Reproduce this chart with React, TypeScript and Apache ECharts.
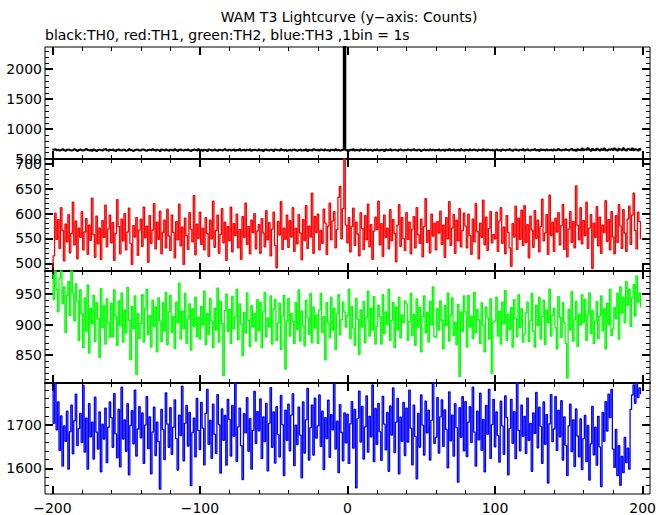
import { useEffect, useRef } from "react";
import * as echarts from "echarts";

// ---- data (1 s bins, starting at t = -200 s) ----
const BIN_START = -200;
const BIN_SIZE = 1;

const TH0 = [
  655,648,660,642,651,638,645,657,640,633,649,652,641,636,647,659,644,630,646,653,
  641,637,650,662,645,639,648,634,655,643,628,647,651,640,636,654,661,642,635,649,
  644,652,639,631,648,656,643,637,650,645,633,641,658,646,639,627,644,653,648,636,
  642,655,649,638,632,646,651,640,657,644,635,648,643,629,652,647,638,656,641,634,
  650,643,637,659,645,631,648,654,640,636,649,642,655,638,630,646,652,644,639,657,
  641,648,635,650,644,629,653,647,638,642,656,640,633,651,645,637,648,660,643,636,
  649,638,645,654,632,647,641,657,639,644,651,636,648,642,655,634,646,650,640,637,
  652,640,646,631,649,655,643,638,650,645,628,653,647,641,636,658,644,639,651,635,
  643,650,637,648,656,640,633,647,652,638,645,641,654,630,649,643,637,657,646,640,
  648,636,652,644,639,655,641,647,633,650,645,638,657,642,649,636,644,651,2400,640,
  646,633,650,643,657,639,648,642,635,653,647,640,656,644,638,651,645,632,649,641,
  655,643,638,650,646,631,652,641,647,658,637,645,651,640,634,649,655,643,639,646,
  640,652,645,636,649,657,642,638,651,644,630,647,653,641,648,637,655,643,650,639,
  647,641,656,638,645,650,634,648,643,659,640,646,652,637,644,651,639,657,642,635,
  651,644,637,653,640,648,655,642,633,649,646,639,658,644,636,652,647,641,650,638,
  643,656,641,647,635,652,645,638,650,644,657,640,632,648,653,642,637,651,646,660,
  639,648,654,642,636,651,645,658,640,647,633,652,644,649,638,655,641,646,650,637,
  653,640,647,661,644,636,650,642,657,645,638,652,664,641,648,635,659,646,643,670,
  642,655,648,676,650,633,662,645,640,668,652,637,659,647,671,643,638,656,649,664,
  645,672,651,638,666,654,641,675,648,636,663,652,644,669,640,657,650,637,661,648,
];

const TH1 = [
  492,515,601,548,588,530,612,566,505,579,543,598,521,560,623,537,585,509,571,552,
  604,527,563,590,518,577,546,631,558,512,595,539,571,508,586,552,617,533,569,597,
  541,582,506,560,628,574,519,589,545,600,527,563,611,540,498,576,553,592,516,567,
  589,534,613,551,575,502,596,540,567,620,529,583,548,605,519,562,587,531,609,555,
  526,597,562,511,584,547,619,535,573,498,591,556,528,602,569,543,636,517,579,550,
  603,538,571,527,592,560,514,587,549,625,532,566,597,520,558,610,541,583,506,574,
  545,613,523,580,556,599,531,568,508,594,552,621,538,574,519,587,562,600,529,565,
  578,520,590,561,533,606,547,582,515,569,603,536,491,584,557,624,528,571,548,597,
  532,586,553,612,524,571,539,598,561,507,588,546,616,530,575,553,641,520,594,562,
  599,527,566,540,609,581,518,575,621,547,585,604,531,568,633,655,549,610,760,577,
  541,592,523,574,611,536,583,559,515,602,570,528,596,547,619,533,578,508,565,593,
  568,625,537,580,514,597,552,571,529,608,545,588,560,503,577,618,534,592,550,526,
  602,548,583,519,569,594,531,612,557,540,589,513,574,630,542,566,521,599,555,581,
  527,584,561,605,538,577,512,592,549,624,536,571,598,520,587,545,610,533,566,601,
  575,531,599,556,518,589,543,620,564,509,581,552,627,537,593,526,570,604,541,558,
  549,603,524,585,612,540,573,519,596,562,531,494,580,553,615,528,591,548,607,536,
  616,542,578,511,595,567,532,606,550,587,523,574,629,545,561,598,518,637,556,583,
  524,591,563,602,537,576,618,528,589,513,569,604,542,584,531,656,577,547,612,539,
  586,556,623,530,571,598,490,581,552,614,535,593,520,577,562,626,544,588,527,604,
  553,519,596,542,618,575,530,608,561,524,589,615,538,597,641,566,529,603,584,549,
];

const TH2 = [
  982,941,995,958,921,976,990,934,962,887,948,971,915,993,952,906,967,939,874,957,
  918,862,944,889,965,853,927,901,948,872,936,910,846,959,895,931,868,942,903,879,
  935,880,957,913,866,939,898,952,871,924,886,961,907,842,930,893,947,818,918,877,
  902,949,871,926,958,884,915,863,940,897,929,855,944,906,872,936,889,953,867,921,
  948,887,914,861,937,903,968,876,922,893,951,869,909,934,858,926,897,945,880,912,
  876,930,899,955,867,918,884,943,906,862,927,891,960,871,938,902,816,923,950,889,
  925,869,946,893,912,958,875,934,901,849,920,886,952,907,864,931,896,918,873,941,
  890,937,862,921,953,880,911,896,947,868,925,941,874,903,935,859,914,948,827,906,
  943,881,918,905,869,936,892,957,873,922,898,865,940,911,884,951,870,929,894,916,
  869,924,951,887,913,842,936,903,878,945,891,927,859,917,949,883,908,937,921,896,
  915,958,877,930,894,866,943,909,851,924,896,938,870,912,955,881,927,891,946,868,
  897,932,913,868,949,885,921,900,958,874,907,936,862,929,891,945,878,916,903,939,
  934,874,905,951,882,917,866,942,896,928,855,913,947,886,920,871,938,899,962,880,
  879,926,891,939,907,860,931,898,952,873,915,944,882,904,867,933,815,921,889,947,
  921,863,948,896,914,877,953,887,925,908,869,936,899,855,929,911,876,942,820,904,
  906,945,881,922,868,937,901,956,874,917,892,928,863,941,910,880,949,895,926,871,
  884,919,937,872,906,951,889,863,932,898,945,876,913,940,867,924,903,958,881,915,
  927,895,860,946,912,879,936,903,869,812,925,891,954,873,908,938,864,917,899,949,
  903,941,874,916,952,885,923,869,906,938,877,914,947,890,926,860,935,899,958,882,
  893,928,910,951,876,962,919,945,903,971,932,958,897,944,966,914,980,937,952,929,
];

const TH3 = [
  1785,1703,1796,1688,1752,1641,1720,1605,1697,1662,1731,1598,1684,1745,1633,1709,1770,1652,1691,1726,
  1659,1790,1637,1715,1598,1748,1672,1706,1621,1763,1683,1644,1729,1592,1701,1667,1738,1613,1694,1752,
  1716,1648,1771,1679,1624,1735,1603,1786,1667,1711,1639,1748,1585,1698,1732,1656,1779,1628,1690,1741,
  1670,1727,1611,1699,1764,1645,1718,1587,1683,1740,1629,1706,1661,1552,1735,1689,1620,1773,1701,1648,
  1739,1632,1694,1757,1668,1596,1722,1675,1788,1617,1703,1744,1651,1728,1560,1682,1715,1626,1760,1687,
  1643,1751,1692,1608,1726,1781,1655,1710,1623,1747,1678,1634,1769,1700,1589,1736,1664,1721,1607,1758,
  1712,1628,1744,1673,1795,1616,1695,1738,1652,1574,1725,1681,1762,1639,1714,1598,1687,1776,1657,1730,
  1686,1759,1622,1718,1661,1749,1594,1703,1785,1648,1729,1612,1741,1677,1626,1767,1700,1583,1733,1664,
  1747,1640,1722,1771,1606,1699,1654,1740,1676,1578,1752,1635,1711,1783,1619,1693,1745,1630,1761,1669,
  1697,1768,1650,1731,1597,1716,1668,1756,1625,1723,1688,1794,1644,1708,1590,1746,1682,1617,1727,1658,
  1724,1611,1702,1753,1646,1735,1555,1714,1777,1660,1742,1621,1695,1766,1637,1719,1672,1791,1615,1737,
  1655,1749,1684,1618,1765,1701,1642,1728,1593,1743,1676,1784,1636,1706,1760,1587,1717,1662,1751,1629,
  1738,1660,1779,1692,1608,1745,1673,1576,1726,1648,1768,1699,1630,1754,1681,1733,1619,1710,1797,1657,
  1671,1762,1635,1718,1757,1650,1734,1689,1601,1775,1663,1722,1628,1748,1693,1568,1739,1671,1764,1640,
  1753,1627,1706,1741,1659,1786,1683,1605,1731,1665,1772,1641,1712,1592,1744,1678,1781,1623,1700,1758,
  1649,1729,1675,1614,1754,1697,1632,1766,1716,1585,1691,1758,1657,1730,1622,1799,1687,1640,1745,1673,
  1719,1634,1761,1664,1703,1593,1727,1680,1774,1647,1740,1696,1611,1752,1655,1723,1566,1702,1769,1661,
  1690,1764,1641,1733,1672,1755,1619,1718,1652,1583,1697,1747,1638,1711,1604,1736,1674,1626,1713,1597,
  1668,1721,1615,1698,1573,1656,1742,1631,1694,1607,1719,1649,1558,1728,1662,1753,1685,1770,1716,1781,
  1644,1602,1689,1583,1652,1561,1627,1590,1671,1613,1646,1598,1735,1768,1791,1749,1798,1762,1784,1771,
];

const SERIES_VALUES = [TH0, TH1, TH2, TH3];
const SERIES_NAMES = ["TH0", "TH1", "TH2", "TH3"];
const SERIES_COLORS = ["#000000", "#ff0000", "#00ff00", "#0000ff"];

const X_MIN = -205;
const X_MAX = 205;
const X_LABELS = [-200, -100, 0, 100, 200];
const X_MINOR_STEP = 20;

const Y_MINS = [495, 484.5, 804, 1541];
const Y_MAXS = [2370, 710, 988, 1795.5];
const Y_LABELS = [
  [500, 1000, 1500, 2000],
  [500, 550, 600, 650, 700],
  [850, 900, 950],
  [1600, 1700],
];
const Y_MINOR_STEPS = [100, 10, 10, 20];

const TITLE = "WAM T3 Lightcurve (y\u2212axis: Counts)";
const SUBTITLE = "black:TH0, red:TH1, green:TH2, blue:TH3 ,1bin = 1s";

// ---- layout ----
const GRID_LEFT = 45;
const GRID_RIGHT = 19;
const GRID_TOP = 47;
const PANEL_H = 112;
const FONT = '"DejaVu Sans", sans-serif';

function minorTicks(lo: number, hi: number, step: number, exclude: number[]) {
  const out: number[] = [];
  for (let v = Math.ceil(lo / step) * step; v <= hi; v += step) {
    if (!exclude.includes(v)) out.push(v);
  }
  return out;
}

function fmtX(v: number) {
  return v < 0 ? "\u2212" + Math.abs(v) : String(v);
}

function fmtY(v: number) {
  return String(v);
}

function buildOption() {
  const grid: any[] = [];
  const xAxis: any[] = [];
  const yAxis: any[] = [];
  const series: any[] = [];
  const xMinor = minorTicks(-200, 200, X_MINOR_STEP, X_LABELS);

  SERIES_VALUES.forEach((vals, p) => {
    grid.push({
      left: GRID_LEFT,
      right: GRID_RIGHT,
      top: GRID_TOP + PANEL_H * p,
      height: PANEL_H,
      show: true,
      borderColor: "#000",
      borderWidth: 1,
      backgroundColor: "transparent",
    });
    const yMinor = minorTicks(Y_MINS[p], Y_MAXS[p], Y_MINOR_STEPS[p], Y_LABELS[p]);
    let xMain = -1;
    let yMain = -1;
    for (const pos of ["bottom", "top"]) {
      for (const major of [true, false]) {
        if (pos === "bottom" && major) xMain = xAxis.length;
        xAxis.push({
          gridIndex: p,
          type: "value",
          min: X_MIN,
          max: X_MAX,
          position: pos,
          axisLine: {
            show: pos === "bottom" && major && p < 3,
            onZero: false,
            lineStyle: { color: "#000", width: 2 },
          },
          splitLine: { show: false },
          axisTick: {
            show: true,
            inside: true,
            length: major ? 8 : 4,
            customValues: major ? X_LABELS : xMinor,
            lineStyle: { color: "#000", width: major ? 2 : 1 },
          },
          axisLabel: {
            show: p === 3 && pos === "bottom" && major,
            customValues: X_LABELS,
            formatter: fmtX,
            color: "#000",
            fontSize: 14,
            fontFamily: FONT,
            margin: 7,
          },
        });
      }
    }
    for (const pos of ["left", "right"]) {
      for (const major of [true, false]) {
        if (pos === "left" && major) yMain = yAxis.length;
        yAxis.push({
          gridIndex: p,
          type: "value",
          min: Y_MINS[p],
          max: Y_MAXS[p],
          position: pos,
          axisLine: { show: false, onZero: false },
          splitLine: { show: false },
          axisTick: {
            show: true,
            inside: true,
            length: major ? 8 : 4,
            customValues: major ? Y_LABELS[p] : yMinor,
            lineStyle: { color: "#000", width: major ? 2 : 1 },
          },
          axisLabel: {
            show: pos === "left" && major,
            customValues: Y_LABELS[p],
            formatter: fmtY,
            color: "#000",
            fontSize: 14,
            fontFamily: FONT,
            margin: 3,
          },
        });
      }
    }
    series.push({
      name: SERIES_NAMES[p],
      type: "line",
      step: "middle",
      xAxisIndex: xMain,
      yAxisIndex: yMain,
      symbol: "none",
      clip: true,
      lineStyle: { color: SERIES_COLORS[p], width: p === 0 ? 2 : 1.3 },
      itemStyle: { color: SERIES_COLORS[p] },
      data: vals.map((v, i) => [BIN_START + i * BIN_SIZE, v]),
    });
  });

  return {
    animation: false,
    backgroundColor: "#ffffff",
    grid,
    xAxis,
    yAxis,
    series,
    graphic: [
      {
        type: "text",
        x: 349,
        y: 17,
        style: {
          text: TITLE,
          fill: "#000",
          font: `14px ${FONT}`,
          textAlign: "center",
          textVerticalAlign: "middle",
          align: "center",
          verticalAlign: "middle",
        },
      },
      {
        type: "text",
        x: 45,
        y: 35,
        style: {
          text: SUBTITLE,
          fill: "#000",
          font: `14px ${FONT}`,
          textAlign: "left",
          textVerticalAlign: "middle",
          align: "left",
          verticalAlign: "middle",
        },
      },
    ],
  };
}

export default function App() {
  const ref = useRef<HTMLDivElement>(null);
  useEffect(() => {
    if (!ref.current) return;
    const chart = echarts.init(ref.current, null, { renderer: "svg" });
    chart.setOption(buildOption() as any);
    return () => chart.dispose();
  }, []);
  return (
    <div
      ref={ref}
      style={{ position: "fixed", left: 0, top: 0, width: 669, height: 515, background: "#fff" }}
    />
  );
}
